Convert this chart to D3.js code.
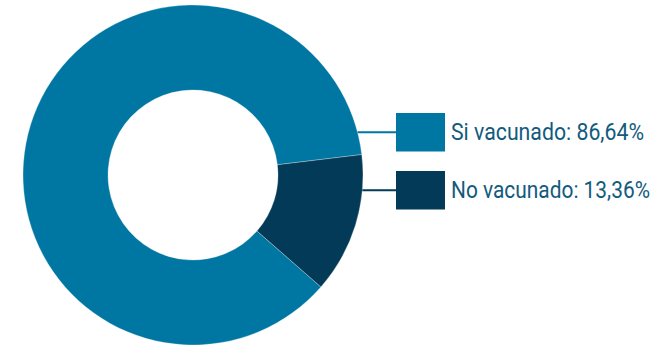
<!DOCTYPE html>
<html>
<head>
<meta charset="utf-8">
<script src="https://cdn.jsdelivr.net/npm/d3@7"></script>
<style>
  html, body { margin: 0; padding: 0; background: #fff; }
  svg { display: block; }
</style>
</head>
<body>
<svg id="chart" width="672" height="347"></svg>
<script>
// Vaccination status shares (percent)
const categories = ["Si vacunado", "No vacunado"];
const values = [86.64, 13.36];
const valueLabels = ["86,64%", "13,36%"];
const colors = ["#0077a3", "#023a58"];

const svg = d3.select("#chart");
const cx = 193, cy = 175;
const outerR = 170, innerR = 85;

// Rotate so the small slice sits on the right, just below the horizontal
const start = 131.2 * Math.PI / 180;
const pie = d3.pie().sort(null).startAngle(start).endAngle(start + 2 * Math.PI);
const arc = d3.arc().innerRadius(innerR).outerRadius(outerR);

const g = svg.append("g").attr("transform", `translate(${cx},${cy})`);
g.selectAll("path")
  .data(pie(values))
  .join("path")
  .attr("d", arc)
  .attr("fill", (d, i) => colors[i])
  .attr("stroke", "#ffffff")
  .attr("stroke-opacity", 0.5)
  .attr("stroke-width", 0.6);

// Legend with leader lines running from the ring's edge
const legendX = 396, boxW = 49, boxH = 38.5;
const legendTop = [113, 171];
const textWidths = [193, 199];

const legend = svg.append("g");
categories.forEach((name, i) => {
  const y0 = legendTop[i];
  const ym = y0 + boxH / 2;
  const dy = ym - cy;
  const edgeX = cx + Math.sqrt(outerR * outerR - dy * dy);
  legend.append("line")
    .attr("x1", edgeX).attr("x2", legendX)
    .attr("y1", ym).attr("y2", ym)
    .attr("stroke", colors[i]).attr("stroke-width", 1.8);
  legend.append("rect")
    .attr("x", legendX).attr("y", y0)
    .attr("width", boxW).attr("height", boxH)
    .attr("fill", colors[i]);
  legend.append("text")
    .attr("x", 451).attr("y", y0 + 26.5)
    .attr("font-family", "Roboto, 'Noto Sans', sans-serif")
    .attr("font-size", 23)
    .attr("fill", "#125b7d")
    .attr("textLength", textWidths[i])
    .attr("lengthAdjust", "spacingAndGlyphs")
    .text(`${name}: ${valueLabels[i]}`);
});
</script>
</body>
</html>
